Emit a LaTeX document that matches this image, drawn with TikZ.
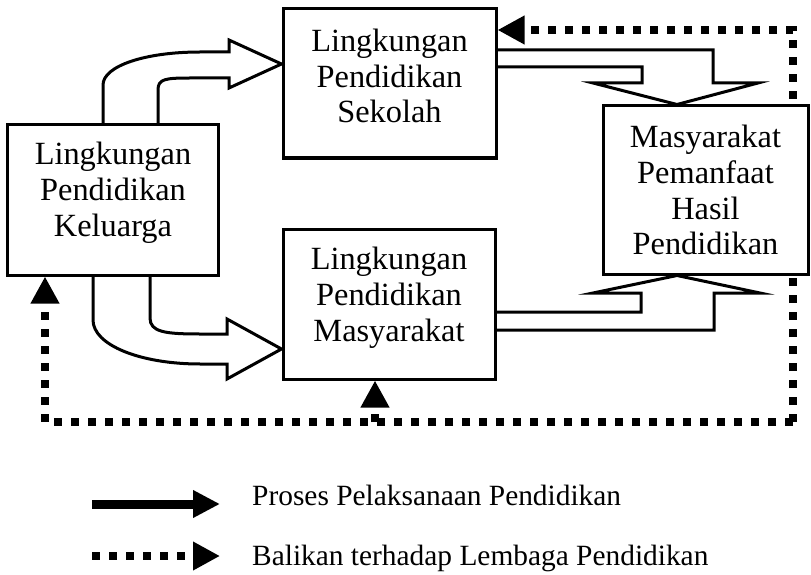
\documentclass[tikz,border=0pt]{standalone}
\usepackage{fontspec}
\setmainfont{Liberation Serif}
\usetikzlibrary{arrows.meta}

\tikzset{
  box/.style={draw, line width=3bp, fill=white, inner sep=0pt},
  boxtext/.style={align=center, inner sep=0pt, font=\fontsize{32.5}{36}\selectfont},
  legtext/.style={inner sep=0pt, font=\fontsize{29.5}{32}\selectfont},
  blockarrow/.style={line width=3bp, line join=miter},
  feedback/.style={line width=8bp, dash pattern=on 8bp off 9bp,
    -{Triangle[length=27bp, width=27bp]}},
  process/.style={line width=9bp, -{Triangle[length=27bp, width=26bp]}},
}

\begin{document}
\begin{tikzpicture}[x=1bp, y=-1bp]
  \useasboundingbox (0,0) rectangle (811,575);

  % education environments
  \node[box, minimum width=210bp, minimum height=150bp] (kel) at (113,200) {};
  \node[boxtext] (kelT) at (113,193) {Lingkungan\\Pendidikan\\Keluarga};

  \node[box, minimum width=213bp, minimum height=149bp] (sek) at (389.5,83.5) {};
  \node[boxtext] (sekT) at (389.5,76) {Lingkungan\\Pendidikan\\Sekolah};

  \node[box, minimum width=212bp, minimum height=149bp] (mas) at (389,304.5) {};
  \node[boxtext] (masT) at (389,298) {Lingkungan\\Pendidikan\\Masyarakat};

  % feedback loop (runs behind the users box)
  \coordinate (fbR) at (793,422);
  \coordinate (fbT) at (793,30);
  \coordinate (fbL) at (45,422);
  \coordinate (fbM) at (375,422);
  \draw[feedback] (fbR) -- (fbT) -- (fbT -| sek.east);
  \draw[feedback] (fbR) -- (fbL) -- (fbL |- kel.south);
  \draw[feedback] (fbM) -- (fbM |- mas.south);

  % users of education results
  \node[box, minimum width=205bp, minimum height=168bp] (pem) at (705.5,190) {};
  \node[boxtext] (pemT) at (705.5,190) {Masyarakat\\Pemanfaat\\Hasil\\Pendidikan};

  % curved block arrow: family -> school
  \draw[blockarrow] (103,125) -- (103,85)
    .. controls (103,66) and (145,52) .. (200,52) -- (229,52) -- (229,40)
    -- (sek.west |- 0,64) -- (229,88) -- (229,78) -- (190,78)
    .. controls (165,78) and (158,79) .. (158,90) -- (158,125);

  % curved block arrow: family -> community
  \draw[blockarrow] (93,275) -- (93,320)
    .. controls (93,345) and (140,364) .. (200,364) -- (227,364) -- (227,379)
    -- (mas.west |- 0,349) -- (227,319) -- (227,334) -- (200,334)
    .. controls (165,334) and (150,332) .. (150,318) -- (150,275);

  % right-angle block arrow: school -> users
  \draw[blockarrow] (496,50) -- (713,50) -- (713,83) -- (758,83)
    -- (pem.north -| 677,0) -- (593,83) -- (642,83) -- (642,67) -- (496,67);

  % right-angle block arrow: community -> users
  \draw[blockarrow] (495,312) -- (641,312) -- (641,293) -- (593,293)
    -- (pem.south -| 677,0) -- (760,293) -- (714,293) -- (714,330) -- (495,330);

  % legend
  \coordinate (l1a) at (92,504);
  \coordinate (l1b) at (220,504);
  \coordinate (l2a) at (92,556);
  \coordinate (l2b) at (220,556);
  \draw[process] (l1a) -- (l1b);
  \draw[feedback] (l2a) -- (l2b);
  \node[legtext, anchor=base west] (leg1) at (252,505) {Proses Pelaksanaan Pendidikan};
  \node[legtext, anchor=base west] (leg2) at (252,565) {Balikan terhadap Lembaga Pendidikan};
\end{tikzpicture}
\end{document}
